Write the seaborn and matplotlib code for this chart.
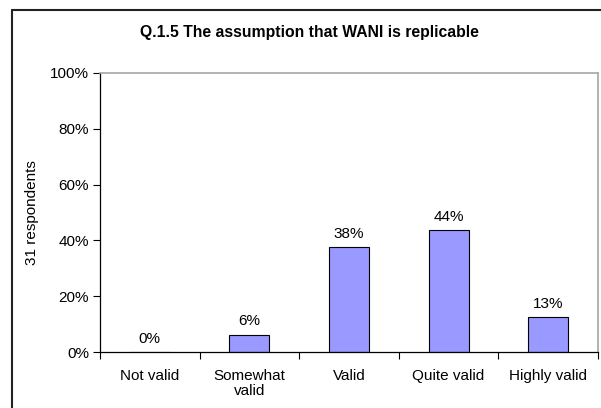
import matplotlib
matplotlib.use('Agg')
import matplotlib.pyplot as plt
from matplotlib.lines import Line2D
import numpy as np
import pandas as pd
import seaborn as sns

categories = ['Not valid', 'Somewhat\nvalid', 'Valid', 'Quite valid', 'Highly valid']
shares = [0.0, 6.25, 37.5, 43.75, 12.5]
labels = ['0%', '6%', '38%', '44%', '13%']
yticks = [0, 20, 40, 60, 80, 100]

sns.set_style('white', {'text.color': 'black', 'axes.labelcolor': 'black',
                        'xtick.color': 'black', 'ytick.color': 'black'})
plt.rcParams['font.family'] = ['Liberation Sans', 'DejaVu Sans']

df = pd.DataFrame({'answer': categories, 'share': shares})

fig = plt.figure(figsize=(6.01, 4.08), dpi=100)
ax = fig.add_axes([100 / 601, 1 - 352 / 408, 498 / 601, 279 / 408])
sns.barplot(data=df, x='answer', y='share', color='#9999FF', width=0.4,
            edgecolor='black', linewidth=0.8, saturation=1, ax=ax)

for i, (v, t) in enumerate(zip(shares, labels)):
    ax.text(i, v + 2.3, t, ha='center', va='bottom', fontsize=11, color='black')

ax.set_xlim(-0.5, 4.5)
ax.set_ylim(0, 100)
ax.set_yticks(yticks)
ax.set_yticklabels([f'{t}%' for t in yticks], fontsize=11)
ax.tick_params(axis='y', length=5, width=0.8, color='black', pad=3, left=True)
ax.set_xticks(range(len(categories)))
ax.set_xticklabels(categories, fontsize=11, linespacing=1.1)
ax.set_xticks(np.arange(-0.5, 5, 1), minor=True)
ax.tick_params(axis='x', which='major', length=0, pad=12)
ax.tick_params(axis='x', which='minor', length=5, width=0.8, color='black', bottom=True)
ax.set_xlabel('')
ax.set_ylabel('31 respondents', fontsize=11, labelpad=8)

for s in ['left', 'bottom']:
    ax.spines[s].set_color('black')
    ax.spines[s].set_linewidth(0.9)
for s in ['top', 'right']:
    ax.spines[s].set_color('#A6A6A6')
    ax.spines[s].set_linewidth(1.2)

fig.text(309 / 601, 1 - 32 / 408, 'Q.1.5 The assumption that WANI is replicable',
         ha='center', va='center', fontsize=11.3, fontweight='bold', color='black')

# outer chart border, cut off on the right and bottom
fig.add_artist(Line2D([12 / 601, 12 / 601], [0, 1 - 10 / 408], transform=fig.transFigure,
                      color='#222222', linewidth=1.5))
fig.add_artist(Line2D([12 / 601, 1], [1 - 10 / 408, 1 - 10 / 408], transform=fig.transFigure,
                      color='#222222', linewidth=1.5))

fig.savefig('out.png', dpi=100)
